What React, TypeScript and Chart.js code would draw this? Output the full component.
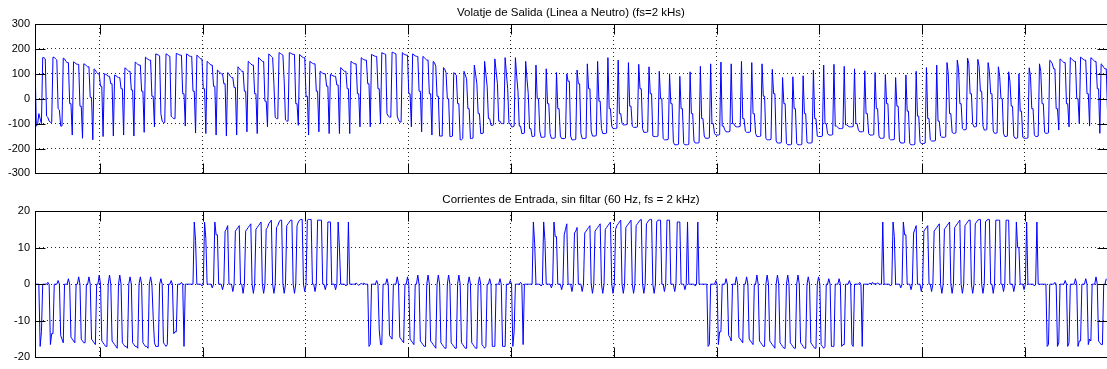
import { useEffect, useRef } from 'react';
import { Chart, registerables } from 'chart.js';

Chart.register(...registerables);

// Time base (ms) shared by both subplots; 8 samples per 0.5 ms switching period
const startMs = 46.84;
const endMs = 99.0;
const sampleStepMs = 0.0625;
const timeTicksMs = [50, 55, 60, 65, 70, 75, 80, 85, 90, 95];

const voltageTicks = [-300, -200, -100, 0, 100, 200, 300];
const currentTicks = [-20, -10, 0, 10, 20];

const voltageTitle = 'Volatje de Salida (Linea a Neutro) (fs=2 kHs)';
const currentTitle = 'Corrientes de Entrada, sin filtar (60 Hz, fs = 2 kHz)';

// Output line-to-neutral voltage (V)
const voltageLead = [160, -110, -105, -60, -80, -100];
const voltageA = [
  165, 165, 160, -70, -75, -90, -95, -95,
  167, 166, 160, 155, -40, -45, -110, -110,
  163, 160, 150, 145, 145, -20, -20, -146,
  148, 145, 140, 138, 138, -30, -30, -159,
  140, 138, 132, 128, 128, 5, 5, -165,
  120, 115, 105, 100, 100, 50, 50, -152,
  100, 98, 95, 90, 90, 60, 60, -150,
  95, 92, 88, 85, 85, 40, 40, -146,
  124, 120, 115, 110, 110, 35, 35, -150,
  147, 143, 138, 135, 135, 30, 30, -135,
  167, 162, 158, 155, 155, 10, 10, -113,
  180, 178, 175, 172, -60, -90, -96, -96,
  180, 178, 172, 170, -70, -75, -80, -80,
  182, 180, 177, 175, 175, 20, 20, -110,
  180, 177, 172, 170, 170, 30, 30, -138,
  175, 170, 165, 160, 160, 40, 40, -140,
  150, 145, 140, 135, 135, 50, 50, -146,
  115, 110, 105, 100, 100, 60, 60, -150,
  105, 100, 90, 85, 85, 45, 45, -146,
  128, 122, 115, 110, 110, 30, 30, -133,
  150, 145, 140, 135, 135, 20, 20, -140,
  165, 160, 155, 150, 150, -10, -10, -113,
  180, 175, 170, 165, 60, -75, -80, -80,
  185, 182, 178, 175, 70, -85, -90, -90,
  185, 183, 180, 178, 178, -20, -20, -107,
  178, 172, 168, 165, 165, 10, 10, -146,
];
const voltageB = [
  150, 146, 142, 140, 140, 30, 30, -133,
  110, 106, 102, 100, 100, 50, 50, -140,
  98, 95, 92, 90, 90, 55, 55, -140,
  125, 120, 114, 110, 110, 40, 40, -140,
  150, 146, 142, 140, 140, 20, 20, -113,
  165, 160, 157, 155, 155, 60, 60, -113,
  178, 175, 172, 170, 170, 40, 40, -100,
  185, 182, 180, 178, -60, -70, -74, -74,
  187, 185, 182, 180, -70, -85, -94, -94,
  185, 180, 177, 175, 175, 20, 20, -113,
  180, 176, 172, 170, 170, 30, 30, -133,
  170, 165, 160, 155, 155, 20, 20, -146,
  150, 145, 130, 10, 10, -150, -150, -150,
  125, 118, 105, 0, 0, -152, -152, -150,
  105, 100, 95, -20, -20, -165, -165, -160,
  110, 95, 80, -40, -40, -160, -160, -158,
  135, 100, 60, -60, -60, -140, -140, -138,
  150, 100, 50, -80, -80, -107, -107, -105,
  160, 110, 60, -90, -90, -100, -100, -100,
  165, 100, 40, -100, -100, -113, -113, -110,
  165, 90, 30, -110, -110, -140, -140, -138,
  150, 80, 20, -120, -120, -152, -152, -150,
  135, 0, 0, -130, -155, -155, -155, -153,
  120, -20, -20, -140, -159, -159, -159, -157,
  105, -40, -40, -150, -160, -160, -160, -158,
];
const voltageC = [
  100, 70, 70, -150, -165, -165, -165, -163,
  115, 60, 60, -140, -160, -160, -160, -158,
  140, 40, 40, -130, -150, -150, -150, -148,
  150, -10, -10, -120, -140, -140, -140, -138,
  165, -40, -40, -110, -120, -120, -120, -118,
  155, -60, -60, -100, -105, -105, -105, -103,
  145, -30, -30, -110, -115, -115, -115, -113,
  138, 40, 40, -120, -135, -135, -135, -133,
  128, 20, 20, -150, -152, -152, -152, -150,
  110, 0, 0, -160, -165, -165, -165, -163,
  100, -20, -20, -175, -185, -185, -185, -183,
  90, -40, -40, -180, -185, -185, -185, -183,
  108, -60, -60, -170, -178, -178, -178, -176,
  130, -80, -80, -150, -159, -159, -159, -157,
  140, -100, -100, -140, -146, -146, -146, -144,
  147, -110, -110, -125, -133, -133, -133, -131,
  140, -100, -100, -110, -113, -113, -113, -111,
  150, -80, -80, -130, -135, -135, -135, -133,
  145, -60, -60, -140, -152, -152, -152, -150,
  140, 10, 10, -160, -165, -165, -165, -163,
  118, 20, 20, -170, -178, -178, -178, -176,
  85, -20, -20, -180, -185, -185, -185, -183,
  88, -40, -40, -180, -185, -185, -185, -183,
  92, -60, -60, -175, -178, -178, -178, -176,
  115, -80, -80, -150, -152, -152, -152, -150,
];
const voltageD = [
  135, -100, -100, -140, -146, -146, -146, -144,
  138, -110, -110, -115, -120, -120, -120, -118,
  130, -105, -105, -110, -113, -113, -113, -111,
  120, -100, -100, -125, -133, -133, -133, -131,
  112, -60, -60, -140, -146, -146, -146, -144,
  105, -40, -40, -150, -159, -159, -159, -157,
  97, -20, -20, -160, -165, -165, -165, -163,
  85, -30, -30, -170, -178, -178, -178, -176,
  95, -50, -50, -180, -185, -185, -185, -183,
  110, -70, -70, -175, -180, -180, -180, -178,
  125, -80, -80, -165, -170, -170, -170, -168,
  135, -90, -90, -150, -155, -155, -155, -153,
  145, 100, -60, -60, -135, -139, -139, -137,
  155, 120, -20, -20, -120, -125, -125, -123,
  163, 140, 20, 20, -100, -113, -113, -111,
  158, 130, 30, 30, -110, -126, -126, -124,
  145, 110, 20, 20, -130, -139, -139, -137,
  128, 90, 0, 0, -140, -152, -152, -150,
  108, 70, -30, -30, -150, -159, -159, -157,
  100, -50, -50, -155, -159, -159, -159, -157,
  124, 90, -40, -40, -145, -152, -152, -150,
  140, 110, -20, -20, -135, -139, -139, -137,
  154, 150, 140, 120, 120, -40, -40, -126,
  160, 155, 150, 145, 145, -20, -20, -113,
  165, 160, 155, 150, 150, 0, 0, -100,
  167, 163, 158, 155, 155, 20, 20, -110,
  165, 160, 155, 150, 150, 40, 40, -139,
  140, 135, 125, 120, 120, -60, -60, -90,
];

// Input current (A): negative / positive pulse sectors of the 60 Hz cycle
const currentLead = [0, 0];
const currentNeg1 = [
  0, 0, -17, -13, 0, 0, 0, 0,
  0.5, 0, -16.5, -13.5, -13.5, 0, 0, 0,
  1, 0, -14, -15, -16, 0, 0, 0,
  1.5, 0, -14.5, -15, -15.5, -16, 0, 0,
  2, 0, -15, -15.5, -16, -16, 0, 0,
  2, 0, -15, -15.5, -16, -16.5, 0, 0,
  2.5, 0, -15.5, -16, -16.5, -17, -17, 0,
  2.5, 0, -15.5, -16, -16.5, -17, -17.5, 0,
  2.5, 0, -16, -16.5, -17, -17, -17.5, 0,
  2, 0, -16, -16.5, -17, -17, -17.5, 0,
  2, 0, -16, -16.5, -17, -17, -17.5, 0,
  2, 0, -9, -16, -17, -17, -17, 0,
  1.5, 0, -16, -16.5, -17, -16.5, 0, 0,
  1, 0, -13.5, -13, -13, 0, 0, 0,
  0.5, 0, -17, 0, 0, 0, 0, 0,
];
const currentPos1 = [
  0, 0, 17, 12, 0, 0, 0, 0,
  -0.5, 0, 17, 12.5, 0, 0, 0, 0,
  -1, 0, 17, 13.5, 13.5, 0, 0, 0,
  -1.5, 0, 14.5, 15, 16, 0, 0, 0,
  -2, 0, 14.5, 15, 15.5, 16, 0, 0,
  -2.5, 0, 14.5, 15, 15.5, 16, 16.5, 0,
  -2.5, 0, 15, 15.5, 16, 16.5, 17, 0,
  -2.5, 0, 15, 15.5, 16.5, 17, 17.5, 0,
  -2.5, 0, 15.5, 16, 17, 17.5, 17.5, 0,
  -2.5, 0, 16, 16.5, 17, 17.5, 17.5, 0,
  -2.5, 0, 16, 17, 17.5, 17.7, 17.7, 0,
  -2, 0, 17.5, 17.7, 17.7, 17.7, 0, 0,
  -2, 0, 17.5, 17.5, 17.5, 17.5, 0, 0,
  -1.5, 0, 17, 17, 17, 0, 0, 0,
  -1.5, 0, 17, 10, 0, 0, 0, 0,
  -0.5, 0, 17, 0, 0, 0, 0, 0,
];
const currentGap1 = [0.3, 0, -0.3, 0, 0.2, 0, 0.3, 0];
const currentNeg2 = [
  0, 0, -17, -16.5, 0, 0, 0, 0,
  1, 0, -12.5, -16.5, -16.5, 0, 0, 0,
  1.5, 0, -14, -14.5, -15, 0, 0, 0,
  2, 0, -14.5, -15, -15.5, -16, 0, 0,
  2, 0, -15, -15.5, -16, -16.5, 0, 0,
  2.5, 0, -15.5, -16, -16.5, -17, -17, 0,
  2.5, 0, -15.5, -16, -16.5, -17, -17.5, 0,
  2.5, 0, -16, -16.5, -17, -17.5, -17.5, 0,
  2.5, 0, -16, -16.5, -17, -17.5, -17.5, 0,
  2.5, 0, -16, -16.5, -17, -17.5, -17.5, 0,
  2, 0, -16, -16.5, -17, -17.5, -17.5, 0,
  2, 0, -16.5, -17, -17.5, -17, 0, 0,
  1.5, 0, -17, -17, -17, 0, 0, 0,
  1.5, 0, -17, -17, -17, 0, 0, 0,
  1, 0, -17, -13, 0, 0, 0, 0,
  0.5, 0, -16.5, 0, 0, 0, 0, 0,
];
const currentPos2 = [
  0, 0, 17, 11, 0, 0, 0, 0,
  -0.5, 0, 17, 12, 0, 0, 0, 0,
  -1, 0, 17, 13, 13, 0, 0, 0,
  -1.5, 0, 13.5, 15, 16.5, 0, 0, 0,
  -2, 0, 14, 14.5, 15.5, 0, 0, 0,
  -2, 0, 14, 14.5, 15, 15.5, 16, 0,
  -2.5, 0, 14.5, 15, 15.5, 16, 16.5, 0,
  -2.5, 0, 15, 15.5, 16, 16.5, 17, 0,
  -2.5, 0, 15, 16, 16.5, 17, 17.5, 0,
  -2.5, 0, 15.5, 16, 16.5, 17, 17.5, 0,
  -2.5, 0, 16, 16.5, 17, 17.5, 17.7, 0,
  -2.5, 0, 16.5, 17, 17.5, 17.7, 17.7, 0,
  -2.5, 0, 17, 17.5, 17.5, 17.5, 0, 0,
  -2, 0, 17.5, 17.5, 17.5, 0, 0, 0,
  -2, 0, 17, 17, 17, 0, 0, 0,
  -1.5, 0, 17, 0, 0, 0, 0, 0,
  -0.5, 0, 17, 0, 0, 0, 0, 0,
];
const currentNeg3 = [
  0, 0, -17, -16.5, 0, 0, 0, 0,
  1, 0, -16.5, -13, -13, 0, 0, 0,
  1.5, 0, -14, -14.5, -15.5, 0, 0, 0,
  2, 0, -14.5, -15, -15.5, -16, 0, 0,
  2, 0, -15, -15.5, -16, -16.5, 0, 0,
  2.5, 0, -15.5, -16, -16.5, -17, -17, 0,
  2.5, 0, -15.5, -16, -16.5, -17, -17.5, 0,
  2.5, 0, -16, -16.5, -17, -17.5, -17.5, 0,
  2.5, 0, -16, -16.5, -17, -17.5, -17.5, 0,
  2.5, 0, -16, -16.5, -17, -17.5, -17.5, 0,
  2, 0, -16, -16.5, -17, -17.5, -17.5, 0,
  2, 0, -16.5, -17, -17.5, -17, 0, 0,
  1.5, 0, -17, -17, -17, 0, 0, 0,
  1.5, 0, -17, -16.5, -16.5, 0, 0, 0,
  1, 0, -16.5, -17, 0, 0, 0, 0,
  0.5, 0, -17, 0, 0, 0, 0, 0,
];
const currentGap2 = [0.3, 0, 0.5, 0, 0.2, 0, 0.4, 0];
const currentPos3 = [
  0, 0, 17, 0, 0, 0, 0, 0,
  -0.5, 0, 17, 13, 0, 0, 0, 0,
  -1, 0, 17, 13.5, 13.5, 0, 0, 0,
  -1.5, 0, 14, 15, 16, 0, 0, 0,
  -2, 0, 14.5, 15, 15.5, 16, 0, 0,
  -2, 0, 14.5, 15, 15.5, 16, 16.5, 0,
  -2.5, 0, 15, 15.5, 16, 16.5, 17, 0,
  -2.5, 0, 15.5, 16, 16.5, 17, 17.5, 0,
  -2.5, 0, 16, 16.5, 17, 17.5, 17.5, 0,
  -2.5, 0, 16.5, 17, 17.5, 17.7, 17.7, 0,
  -2.5, 0, 17, 17.5, 17.7, 17.7, 0, 0,
  -2.5, 0, 17.5, 17.5, 17.5, 17.5, 0, 0,
  -2, 0, 17.5, 17.5, 17.5, 0, 0, 0,
  -2, 0, 17, 10, 10, 0, 0, 0,
  -1.5, 0, 17, 0, 0, 0, 0, 0,
  -0.5, 0, 17, 0, 0, 0, 0, 0,
];
const currentNeg4 = [
  0, 0, -17, -16.5, 0, 0, 0, 0,
  0.5, 0, -17, -16, 0, 0, 0, 0,
  1, 0, -17, -16, 0, 0, 0, 0,
  1.5, 0, -17, -15.5, -15.5, 0, 0, 0,
  1.5, 0, -16.5, -15, -15.5, 0, 0, 0,
  2, 0, -15.5, -16, -16.5, -16.5, 0, 0,
  1.5,
];

const outputVoltage = [...voltageLead, ...voltageA, ...voltageB, ...voltageC, ...voltageD];
const inputCurrent = [
  ...currentLead, ...currentNeg1, ...currentPos1, ...currentGap1, ...currentNeg2,
  ...currentPos2, ...currentNeg3, ...currentGap2, ...currentPos3, ...currentNeg4,
];

const FONT = '"Liberation Sans", Arial, Helvetica, sans-serif';
const TICK_LEN = 10;

// Boxed axes with inward tick marks on all four sides, plus the subplot title
const boxedAxes = {
  id: 'boxedAxes',
  afterDraw(chart: any, _args: any, opts: any) {
    const { ctx, chartArea: a, scales } = chart;
    const L = Math.round(a.left) + 0.5;
    const R = Math.round(a.right) + 0.5;
    const T = Math.round(a.top) + 0.5;
    const B = Math.round(a.bottom) + 0.5;
    ctx.save();
    ctx.strokeStyle = '#000';
    ctx.lineWidth = 1;
    ctx.setLineDash([]);
    ctx.strokeRect(L, T, R - L, B - T);
    ctx.beginPath();
    for (const v of timeTicksMs) {
      const px = Math.round(scales.x.getPixelForValue(v)) + 0.5;
      ctx.moveTo(px, T);
      ctx.lineTo(px, T + TICK_LEN);
      ctx.moveTo(px, B);
      ctx.lineTo(px, B - TICK_LEN);
    }
    for (const t of scales.y.ticks) {
      const py = Math.round(scales.y.getPixelForValue(t.value)) + 0.5;
      ctx.moveTo(L, py);
      ctx.lineTo(L + TICK_LEN, py);
      ctx.moveTo(R, py);
      ctx.lineTo(R - TICK_LEN, py);
    }
    ctx.stroke();
    ctx.fillStyle = '#000';
    ctx.font = `11.5px ${FONT}`;
    ctx.textAlign = 'center';
    ctx.textBaseline = 'middle';
    ctx.fillText(opts.title, (a.left + a.right) / 2, opts.titleY);
    ctx.restore();
  },
};

function buildChart(
  canvas: HTMLCanvasElement,
  values: number[],
  yTicks: number[],
  title: string,
  titleY: number,
  padTop: number,
  padBottom: number,
) {
  const points = values.map((v, i) => ({ x: startMs + i * sampleStepMs, y: v }));
  return new Chart(canvas, {
    type: 'line',
    data: {
      datasets: [
        {
          data: points,
          borderColor: '#0000ff',
          borderWidth: 1,
          pointRadius: 0,
          tension: 0,
          fill: false,
        },
      ],
    },
    options: {
      animation: false,
      responsive: false,
      maintainAspectRatio: false,
      devicePixelRatio: 1,
      events: [],
      layout: { padding: { top: padTop, bottom: padBottom, left: 0, right: 0 } },
      plugins: {
        legend: { display: false },
        tooltip: { enabled: false },
        title: { display: false },
        boxedAxes: { title, titleY },
      } as any,
      scales: {
        x: {
          type: 'linear',
          min: startMs,
          max: endMs,
          ticks: { display: false },
          grid: { color: 'rgba(0,0,0,0.85)', lineWidth: 1, drawTicks: false },
          border: { display: false, dash: [1, 3] },
          afterBuildTicks: (scale: any) => {
            scale.ticks = timeTicksMs.map((v) => ({ value: v }));
          },
          afterFit: (scale: any) => {
            scale.height = 0;
          },
        },
        y: {
          type: 'linear',
          min: yTicks[0],
          max: yTicks[yTicks.length - 1],
          ticks: {
            color: '#000',
            padding: 5,
            font: { family: FONT, size: 11 },
            callback: (v: any) => String(v),
          },
          grid: { color: 'rgba(0,0,0,0.85)', lineWidth: 1, drawTicks: false },
          border: { display: false, dash: [1, 3] },
          afterBuildTicks: (scale: any) => {
            scale.ticks = yTicks.map((v) => ({ value: v }));
          },
          afterFit: (scale: any) => {
            scale.width = 35;
          },
        },
      },
    },
    plugins: [boxedAxes],
  });
}

export default function App() {
  const topRef = useRef<HTMLCanvasElement>(null);
  const bottomRef = useRef<HTMLCanvasElement>(null);

  useEffect(() => {
    const c1 = buildChart(topRef.current!, outputVoltage, voltageTicks, voltageTitle, 13, 24, 7);
    const c2 = buildChart(bottomRef.current!, inputCurrent, currentTicks, currentTitle, 15, 26, 4);
    return () => {
      c1.destroy();
      c2.destroy();
    };
  }, []);

  return (
    <div style={{ position: 'fixed', left: 0, top: 0, width: 1107, height: 369, background: '#fff', overflow: 'hidden' }}>
      <canvas ref={topRef} width={1107} height={185} style={{ position: 'absolute', left: 0, top: 0, display: 'block' }} />
      <canvas ref={bottomRef} width={1107} height={184} style={{ position: 'absolute', left: 0, top: 185, display: 'block' }} />
    </div>
  );
}
